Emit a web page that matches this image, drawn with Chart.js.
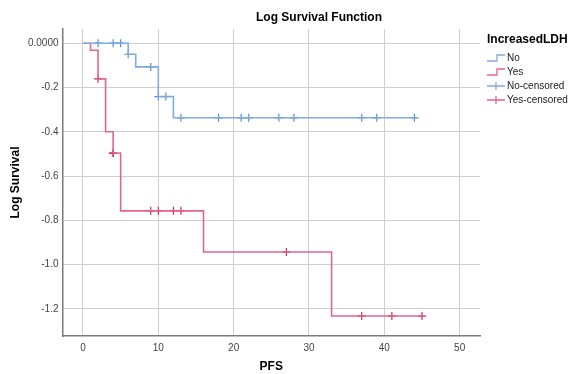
<!DOCTYPE html>
<html>
<head>
<meta charset="utf-8">
<script src="https://cdn.jsdelivr.net/npm/chart.js@4"></script>
<style>
  html, body { margin: 0; padding: 0; background: #fff; }
  #wrap { width: 569px; height: 374px; position: relative; }
</style>
</head>
<body>
<div id="wrap"><canvas id="km"></canvas></div>
<script>
// step curves (time, log survival)
const noTimes = [0, 6, 7, 10, 12, 44];
const noVals = [0, -0.05, -0.107, -0.241, -0.337, -0.337];
const yesTimes = [0, 1, 2, 3, 4, 5, 16, 33, 45];
const yesVals = [0, -0.032, -0.161, -0.40, -0.496, -0.757, -0.943, -1.232, -1.232];

// censored marks
const noCensT = [2, 4, 5, 6, 9, 10, 11, 13, 18, 21, 22, 26, 28, 37, 39, 44];
const noCensV = [0, 0, 0, -0.05, -0.107, -0.241, -0.241, -0.337, -0.337, -0.337, -0.337, -0.337, -0.337, -0.337, -0.337, -0.337];
const yesCensT = [2, 4, 4, 9, 10, 12, 13, 27, 37, 41, 45];
const yesCensV = [-0.161, -0.496, -0.496, -0.757, -0.757, -0.757, -0.757, -0.943, -1.232, -1.232, -1.232];

const xTicks = [0, 10, 20, 30, 40, 50];
const yTicks = [0, -0.2, -0.4, -0.6, -0.8, -1.0, -1.2];
const legendLabels = ['No', 'Yes', 'No-censored', 'Yes-censored'];

const BLUE = '#80abe0', BLUE_M = '#5a8cd0';
const RED = '#e2668a', RED_M = '#d4285a';

const pts = (xs, ys) => xs.map((x, i) => ({ x, y: ys[i] }));

// title + legend drawn by hand, SPSS style
const extras = {
  id: 'extras',
  afterDraw(chart) {
    const c = chart.ctx;
    c.save();
    c.fillStyle = '#000';
    c.font = 'bold 12px "Liberation Sans", Arial, sans-serif';
    c.textAlign = 'center';
    c.textBaseline = 'middle';
    c.fillText('Log Survival Function', 319, 18);

    c.textAlign = 'left';
    c.fillText('IncreasedLDH', 487, 40);
    c.font = '10px "Liberation Sans", Arial, sans-serif';
    const cols = [BLUE, RED, BLUE, RED];
    legendLabels.forEach((t, i) => {
      const y = 58 + i * 14;
      c.strokeStyle = cols[i];
      c.lineWidth = 1.3;
      c.beginPath();
      if (i < 2) {
        c.moveTo(487, y + 3); c.lineTo(497, y + 3); c.lineTo(497, y - 3); c.lineTo(505, y - 3);
      } else {
        c.moveTo(487, y); c.lineTo(505, y);
        c.moveTo(496, y - 4); c.lineTo(496, y + 4);
      }
      c.stroke();
      c.fillStyle = '#222';
      c.fillText(t, 507, y);
    });
    c.restore();
  }
};

new Chart(document.getElementById('km'), {
  type: 'line',
  data: {
    datasets: [
      { label: 'No', data: pts(noTimes, noVals), stepped: 'before', borderColor: BLUE, borderWidth: 1.6, pointRadius: 0, fill: false },
      { label: 'Yes', data: pts(yesTimes, yesVals), stepped: 'before', borderColor: RED, borderWidth: 1.6, pointRadius: 0, fill: false },
      { label: 'No-censored', data: pts(noCensT, noCensV), showLine: false, pointStyle: 'cross', pointRadius: 4, borderColor: BLUE_M, borderWidth: 1.2 },
      { label: 'Yes-censored', data: pts(yesCensT, yesCensV), showLine: false, pointStyle: 'cross', pointRadius: 4, borderColor: RED_M, borderWidth: 1.2 }
    ]
  },
  options: {
    responsive: true, maintainAspectRatio: false, animation: false,
    layout: { padding: { left: 0, right: 89, top: 29, bottom: 0 } },
    plugins: { legend: { display: false }, title: { display: false }, tooltip: { enabled: false } },
    scales: {
      x: {
        type: 'linear', min: -2.72, max: 52.7,
        afterBuildTicks: s => { s.ticks = xTicks.map(v => ({ value: v })); },
        afterFit: s => { s.height = 38; },
        grid: { color: '#cfcfcf', drawTicks: false },
        border: { color: '#7a7a7a', width: 1.5 },
        ticks: { padding: 6, color: '#444', font: { size: 10, family: '"Liberation Sans", Arial' } },
        title: { display: true, text: 'PFS', color: '#000', padding: 0, font: { size: 12, weight: 'bold', family: '"Liberation Sans", Arial' } }
      },
      y: {
        type: 'linear', min: -1.322, max: 0.064,
        afterBuildTicks: s => { s.ticks = yTicks.map(v => ({ value: v })); },
        afterFit: s => { s.width = 62.5; },
        grid: { color: '#cfcfcf', drawTicks: false },
        border: { color: '#7a7a7a', width: 1.5 },
        ticks: { padding: 4, color: '#444', font: { size: 10, family: '"Liberation Sans", Arial' },
          callback: v => v === 0 ? '0.0000' : v.toFixed(1) },
        title: { display: true, text: 'Log Survival', color: '#000', padding: { top: 8, bottom: 0 }, font: { size: 12, weight: 'bold', family: '"Liberation Sans", Arial' } }
      }
    }
  },
  plugins: [extras]
});
</script>
</body>
</html>
